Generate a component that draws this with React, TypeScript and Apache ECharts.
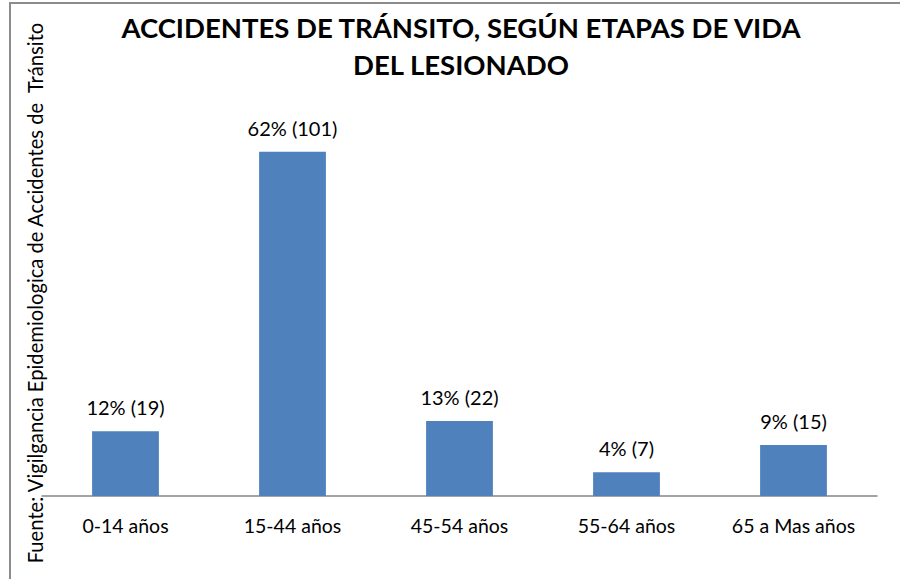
import React, { useEffect, useRef } from "react";
import * as echarts from "echarts";

const categories = ["0-14 años", "15-44 años", "45-54 años", "55-64 años", "65 a Mas años"];
const values = [19, 101, 22, 7, 15];
const percents = ["12%", "62%", "13%", "4%", "9%"];
const titleLines = ["ACCIDENTES DE TRÁNSITO, SEGÚN ETAPAS DE VIDA", "DEL LESIONADO"];
const sourceText = "Fuente: Vigilgancia Epidemiologica de Accidentes de  Tránsito";

export default function App() {
  const ref = useRef<HTMLDivElement>(null);
  useEffect(() => {
    if (!ref.current) return;
    const chart = echarts.init(ref.current, null, { renderer: "svg" });
    const font = "Lato, 'Open Sans', sans-serif";
    chart.setOption({
      animation: false,
      backgroundColor: "#ffffff",
      title: {
        text: titleLines.join("\n"),
        left: 456,
        top: 4,
        textAlign: "center",
        textStyle: {
          fontFamily: font,
          fontWeight: "bold",
          fontSize: 27.5,
          lineHeight: 37,
          color: "#000000",
        },
      },
      grid: { left: 42, right: 23, top: 87, bottom: 83 },
      xAxis: {
        type: "category",
        data: categories,
        axisLine: { show: true, lineStyle: { color: "#868686", width: 1.5 } },
        axisTick: { show: false },
        axisLabel: {
          color: "#000000",
          fontFamily: font,
          fontSize: 19.5,
          margin: 19,
        },
      },
      yAxis: {
        type: "value",
        min: 0,
        max: 120,
        show: false,
        splitLine: { show: false },
      },
      series: [
        {
          type: "bar",
          data: values,
          barWidth: "40%",
          itemStyle: { color: "#4F81BD" },
          label: {
            show: true,
            position: "top",
            distance: 14,
            color: "#000000",
            fontFamily: font,
            fontSize: 20,
            formatter: (p: any) => `${percents[p.dataIndex]} (${values[p.dataIndex]})`,
          },
        },
      ],
      graphic: [
        {
          type: "rect",
          z: -10,
          shape: { x: 10, y: 3, width: 900, height: 600 },
          style: { fill: "none", stroke: "#8c8c8c", lineWidth: 2 },
        },
        {
          type: "text",
          x: 35,
          y: 293,
          rotation: Math.PI / 2,
          style: {
            text: sourceText,
            fontFamily: font,
            fontSize: 20.2,
            fill: "#000000",
            align: "center",
            verticalAlign: "middle",
          },
        },
      ],
    });
    return () => chart.dispose();
  }, []);
  return (
    <div
      ref={ref}
      style={{ position: "fixed", left: 0, top: 0, width: 900, height: 579 }}
    />
  );
}
